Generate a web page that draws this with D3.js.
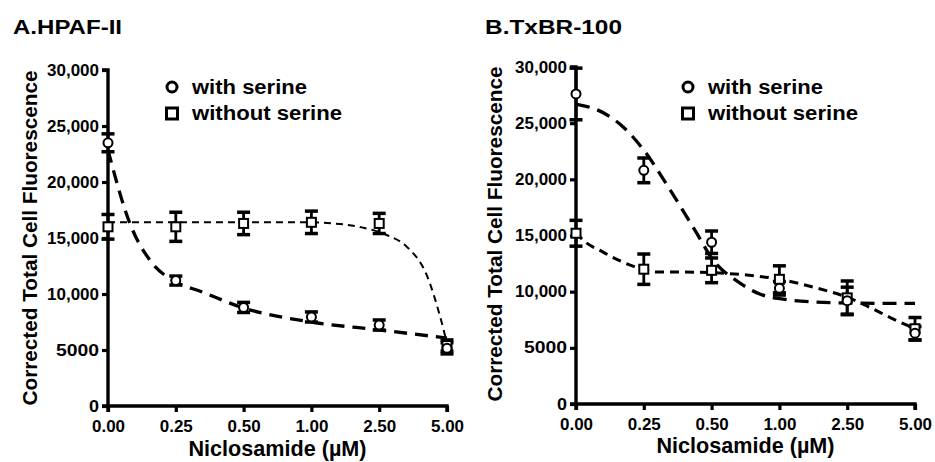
<!DOCTYPE html>
<html><head><meta charset="utf-8">
<script src="https://cdn.jsdelivr.net/npm/d3@7"></script>
<style>
html,body{margin:0;padding:0;background:#fff;}
svg{display:block;}
text{font-family:"Liberation Sans",Arial,sans-serif;font-weight:bold;fill:#000;}
</style></head>
<body>
<svg id="c" width="935" height="462"></svg>
<script>
// ---- data ----
const xLabels = ["0.00","0.25","0.50","1.00","2.50","5.00"];
const yTickValues = [0,5000,10000,15000,20000,25000,30000];
const yTickLabels = ["0","5000","10,000","15,000","20,000","25,000","30,000"];
const seriesNames = ["with serine","without serine"];

// Panel A: HPAF-II
const aWithMean = [23500, 11200, 8800, 7950, 7230, 5150];
const aWithErr  = [800, 400, 450, 450, 450, 500];
const aWithoutMean = [16000, 16000, 16300, 16400, 16300, 5400];
const aWithoutErr  = [1100, 1300, 1000, 1000, 900, 500];
const aWithFitX = [0, 0.32, 0.62, 1, 1.36, 2, 3, 4, 5];
const aWithFitY = [22850, 16340, 13000, 11070, 10250, 8750, 7500, 6790, 6070];
const aWithoutFitX = [0, 1, 2, 3, 3.23, 3.72, 4.11, 4.41, 4.7, 4.9, 5];
const aWithoutFitY = [16400, 16400, 16400, 16400, 16340, 15980, 15270, 14200, 11700, 7950, 5600];

// Panel B: TxBR-100
const bWithMean = [27600, 20800, 14400, 10300, 9200, 6300];
const bWithErr  = [2300, 1100, 1000, 600, 1200, 600];
const bWithoutMean = [15200, 12000, 11900, 11100, 9450, 6700];
const bWithoutErr  = [1150, 1350, 1100, 1200, 1500, 1000];
const bWithFitX = [0, 0.41, 0.7, 1, 1.39, 1.78, 2, 2.42, 2.71, 3.16, 3.55, 4, 5];
const bWithFitY = [26700, 25900, 24640, 22600, 19040, 15210, 13000, 10760, 9790, 9250, 9070, 8990, 8950];
const bWithoutFitX = [0, 0.06, 0.4, 0.8, 1.19, 1.58, 2.52, 3, 3.5, 4, 4.3, 4.65, 5];
const bWithoutFitY = [15300, 14860, 13520, 12370, 11740, 11740, 11480, 11100, 10400, 9500, 8700, 7650, 6700];

const svg = d3.select("#c");

function panel(cfg){
  const g = svg.append("g");
  const x = d3.scaleLinear().domain([0,5]).range([cfg.x0, cfg.x1]);
  const y = d3.scaleLinear().domain([0,30000]).range([cfg.y0, cfg.y1]);

  // title
  g.append("text").attr("x", cfg.titleX).attr("y", 34)
    .attr("font-size", 20).attr("textLength", cfg.titleLen).attr("lengthAdjust","spacingAndGlyphs")
    .text(cfg.title);

  // axes
  const yAxis = d3.axisLeft(y).tickValues(yTickValues)
    .tickFormat((d,i)=>yTickLabels[i]).tickSize(6).tickPadding(3);
  const ya = g.append("g").attr("transform",`translate(${cfg.x0},0)`).call(yAxis);
  const xAxis = d3.axisBottom(x).tickValues([0,1,2,3,4,5])
    .tickFormat((d,i)=>xLabels[i]).tickSize(6).tickPadding(9);
  const xa = g.append("g").attr("transform",`translate(0,${cfg.y0})`).call(xAxis);
  [ya,xa].forEach(a=>{
    a.select(".domain").attr("stroke","#000").attr("stroke-width",3.4);
    a.selectAll(".tick line").attr("stroke","#000").attr("stroke-width",3.2);
    a.selectAll("text").attr("font-family",'"Liberation Sans",Arial,sans-serif')
      .attr("font-weight","bold").attr("font-size",16).attr("fill","#000");
  });
  ya.select(".domain").attr("d", `M-6,${cfg.y0}H0V${cfg.y1}H-6`);
  xa.select(".domain").attr("d", `M${cfg.x0},6V0H${cfg.x1}V6`);
  ya.selectAll(".tick text").attr("textLength", function(d,i){ return yTickLabels[i].length>4 ? 52 : (yTickLabels[i].length>1?43:10); })
    .attr("lengthAdjust","spacingAndGlyphs");
  xa.selectAll(".tick text").attr("textLength", 33).attr("lengthAdjust","spacingAndGlyphs");

  // axis titles
  g.append("text").attr("x", (cfg.x0+cfg.x1)/2).attr("y", cfg.xTitleY)
    .attr("text-anchor","middle").attr("font-size",22)
    .attr("textLength",178).attr("lengthAdjust","spacingAndGlyphs")
    .text("Niclosamide (\u00B5M)");
  g.append("text").attr("transform",`translate(${cfg.yTitleX},${cfg.yTitleY}) rotate(-90)`)
    .attr("text-anchor","middle").attr("font-size",20)
    .attr("textLength",335).attr("lengthAdjust","spacingAndGlyphs")
    .text("Corrected Total Cell Fluorescence");

  // fit curves
  const line = d3.line().x(d=>x(d[0])).y(d=>y(d[1])).curve(d3.curveMonotoneX);
  g.append("path").datum(d3.zip(cfg.withoutFitX, cfg.withoutFitY))
    .attr("d", line).attr("fill","none").attr("stroke","#000")
    .attr("stroke-width", cfg.withoutW).attr("stroke-dasharray", cfg.withoutDash);
  g.append("path").datum(d3.zip(cfg.withFitX, cfg.withFitY))
    .attr("d", line).attr("fill","none").attr("stroke","#000")
    .attr("stroke-width", 3.3).attr("stroke-dasharray", cfg.withDash);

  // error bars + markers
  function errs(mean, err){
    const d = mean.map((m,i)=>({i, m, e: err[i]}));
    const eg = g.append("g");
    eg.selectAll("line.v").data(d).join("line")
      .attr("x1", d=>x(d.i)).attr("x2", d=>x(d.i))
      .attr("y1", d=>y(d.m+d.e)).attr("y2", d=>y(d.m-d.e))
      .attr("stroke","#000").attr("stroke-width",2.8);
    eg.selectAll("line.t").data(d).join("line")
      .attr("x1", d=>x(d.i)-6.5).attr("x2", d=>x(d.i)+6.5)
      .attr("y1", d=>y(d.m+d.e)).attr("y2", d=>y(d.m+d.e))
      .attr("stroke","#000").attr("stroke-width",3.5);
    eg.selectAll("line.b").data(d).join("line")
      .attr("x1", d=>x(d.i)-6.5).attr("x2", d=>x(d.i)+6.5)
      .attr("y1", d=>y(d.m-d.e)).attr("y2", d=>y(d.m-d.e))
      .attr("stroke","#000").attr("stroke-width",3.5);
    return d;
  }
  const dw = errs(cfg.withMean, cfg.withErr);
  const dwo = errs(cfg.withoutMean, cfg.withoutErr);
  g.append("g").selectAll("rect").data(dwo).join("rect")
    .attr("x", d=>x(d.i)-4.5).attr("y", d=>y(d.m)-4.5).attr("width",9).attr("height",9)
    .attr("fill","#fff").attr("stroke","#000").attr("stroke-width",2);
  g.append("g").selectAll("circle").data(dw).join("circle")
    .attr("cx", d=>x(d.i)).attr("cy", d=>y(d.m)).attr("r",4.5)
    .attr("fill","#fff").attr("stroke","#000").attr("stroke-width",2);

  // legend
  const lx = cfg.legX;
  g.append("circle").attr("cx", lx).attr("cy", 87).attr("r",5)
    .attr("fill","#fff").attr("stroke","#000").attr("stroke-width",3);
  g.append("rect").attr("x", lx-5.5).attr("y", 108).attr("width",11).attr("height",11)
    .attr("fill","#fff").attr("stroke","#000").attr("stroke-width",3);
  g.append("text").attr("x", lx+20).attr("y", 94).attr("font-size",20)
    .attr("textLength",115).attr("lengthAdjust","spacingAndGlyphs").text(seriesNames[0]);
  g.append("text").attr("x", lx+20).attr("y", 120).attr("font-size",20)
    .attr("textLength",150).attr("lengthAdjust","spacingAndGlyphs").text(seriesNames[1]);
}

panel({
  title:"A.HPAF-II", titleX:13, titleLen:109,
  x0:108, x1:447, y0:406, y1:70,
  xTitleY:456, yTitleX:37, yTitleY:238,
  withFitX:aWithFitX, withFitY:aWithFitY, withoutFitX:aWithoutFitX, withoutFitY:aWithoutFitY,
  withMean:aWithMean, withErr:aWithErr, withoutMean:aWithoutMean, withoutErr:aWithoutErr,
  withDash:"13,8", withoutDash:"7,5", withoutW:2, legX:172
});
panel({
  title:"B.TxBR-100", titleX:485, titleLen:137,
  x0:576, x1:915, y0:404, y1:67,
  xTitleY:453, yTitleX:502, yTitleY:234,
  withFitX:bWithFitX, withFitY:bWithFitY, withoutFitX:bWithoutFitX, withoutFitY:bWithoutFitY,
  withMean:bWithMean, withErr:bWithErr, withoutMean:bWithoutMean, withoutErr:bWithoutErr,
  withDash:"14,8", withoutDash:"9,6", withoutW:3, legX:688
});
</script>
</body></html>
